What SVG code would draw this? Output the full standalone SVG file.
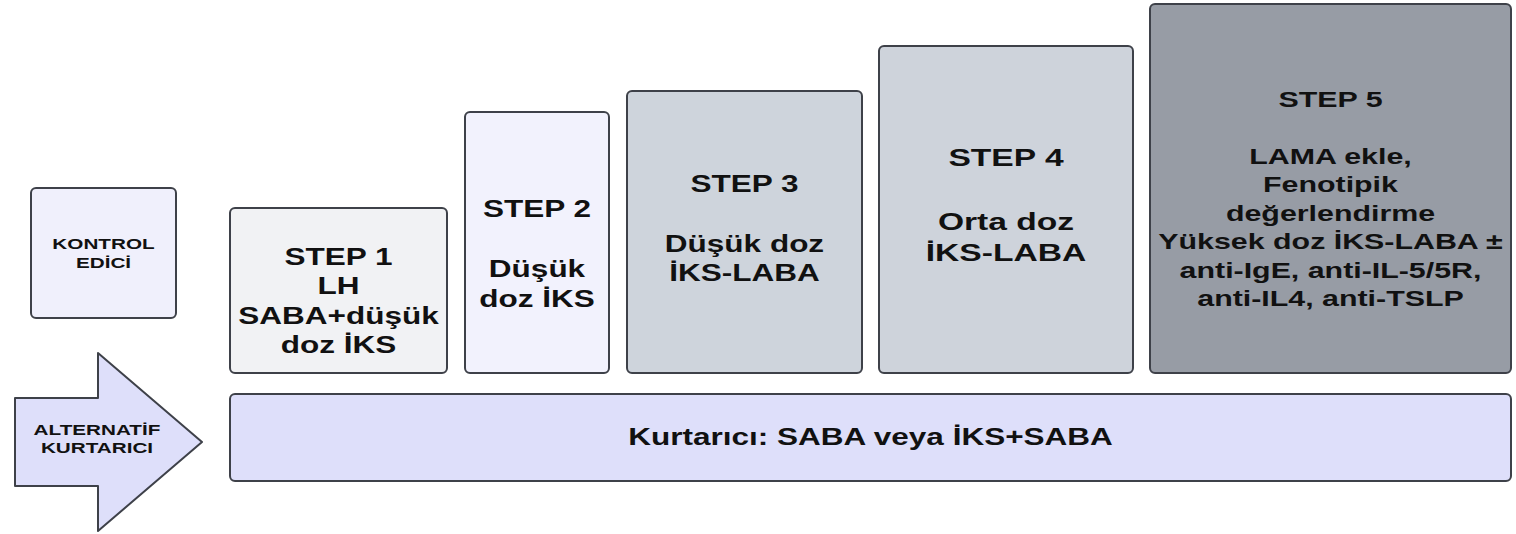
<svg xmlns="http://www.w3.org/2000/svg" width="1516" height="534" viewBox="0 0 1516 534">
<style>
.box{stroke:#3e4149;stroke-width:2;}
.t{font-family:"Liberation Sans",Arial,sans-serif;font-weight:bold;fill:#111;text-anchor:middle;}
.s23{font-size:23px;}
.s24{font-size:24px;}
.s22{font-size:22px;}
.s15{font-size:15px;}
</style>
<rect width="1516" height="534" fill="#ffffff"/>
<g id="kontrol">
<rect class="box" x="31" y="188" width="145" height="130" rx="5" fill="#f0f0fc"/>
<g transform="translate(103.5,0) scale(1.38,1)">
<text class="t s15" x="0" y="249">KONTROL</text>
<text class="t s15" x="0" y="268">EDİCİ</text>
</g>
</g>
<g id="alternatif">
<path class="box" d="M15,398 L98,398 L98,353 L202,442 L98,531 L98,486 L15,486 Z" fill="#dedffa" stroke-linejoin="round"/>
<g transform="translate(97,0) scale(1.38,1)">
<text class="t s15" x="0" y="435">ALTERNATİF</text>
<text class="t s15" x="0" y="453">KURTARICI</text>
</g>
</g>
<g id="step1">
<rect class="box" x="230" y="208" width="217" height="165" rx="5" fill="#f1f2f4"/>
<g transform="translate(338.5,0) scale(1.37,1)">
<text class="t s23" x="0" y="265">STEP 1</text>
<text class="t s23" x="0" y="294.5">LH</text>
<text class="t s23" x="0" y="324">SABA+düşük</text>
<text class="t s23" x="0" y="353.5">doz İKS</text>
</g>
</g>
<g id="step2">
<rect class="box" x="465" y="112" width="144" height="261" rx="5" fill="#f2f2fd"/>
<g transform="translate(537,0) scale(1.37,1)">
<text class="t s23" x="0" y="217">STEP 2</text>
<text class="t s23" x="0" y="277">Düşük</text>
<text class="t s23" x="0" y="307">doz İKS</text>
</g>
</g>
<g id="step3">
<rect class="box" x="627" y="91" width="235" height="282" rx="5" fill="#ced4dc"/>
<g transform="translate(744.5,0) scale(1.37,1)">
<text class="t s23" x="0" y="192">STEP 3</text>
<text class="t s23" x="0" y="252">Düşük doz</text>
<text class="t s23" x="0" y="281">İKS-LABA</text>
</g>
</g>
<g id="step4">
<rect class="box" x="879" y="46" width="254" height="327" rx="5" fill="#ced3db"/>
<g transform="translate(1006,0) scale(1.4,1)">
<text class="t s24" x="0" y="166.5">STEP 4</text>
<text class="t s24" x="0" y="230">Orta doz</text>
<text class="t s24" x="0" y="261.5">İKS-LABA</text>
</g>
</g>
<g id="step5">
<rect class="box" x="1150" y="4" width="361" height="369" rx="5" fill="#979ca5"/>
<g transform="translate(1330.5,0) scale(1.38,1)">
<text class="t s22" x="0" y="107.5">STEP 5</text>
<text class="t s22" x="0" y="164">LAMA ekle,</text>
<text class="t s22" x="0" y="192.5">Fenotipik</text>
<text class="t s22" x="0" y="221">değerlendirme</text>
<text class="t s22" x="0" y="249.5">Yüksek doz İKS-LABA ±</text>
<text class="t s22" x="0" y="278">anti-IgE, anti-IL-5/5R,</text>
<text class="t s22" x="0" y="306.5">anti-IL4, anti-TSLP</text>
</g>
</g>
<g id="kurtarici">
<rect class="box" x="230" y="394" width="1281" height="87" rx="5" fill="#dedffa"/>
<g transform="translate(870.5,0) scale(1.37,1)">
<text class="t s23" x="0" y="445">Kurtarıcı: SABA veya İKS+SABA</text>
</g>
</g>
<g id="connectors"></g>
</svg>
